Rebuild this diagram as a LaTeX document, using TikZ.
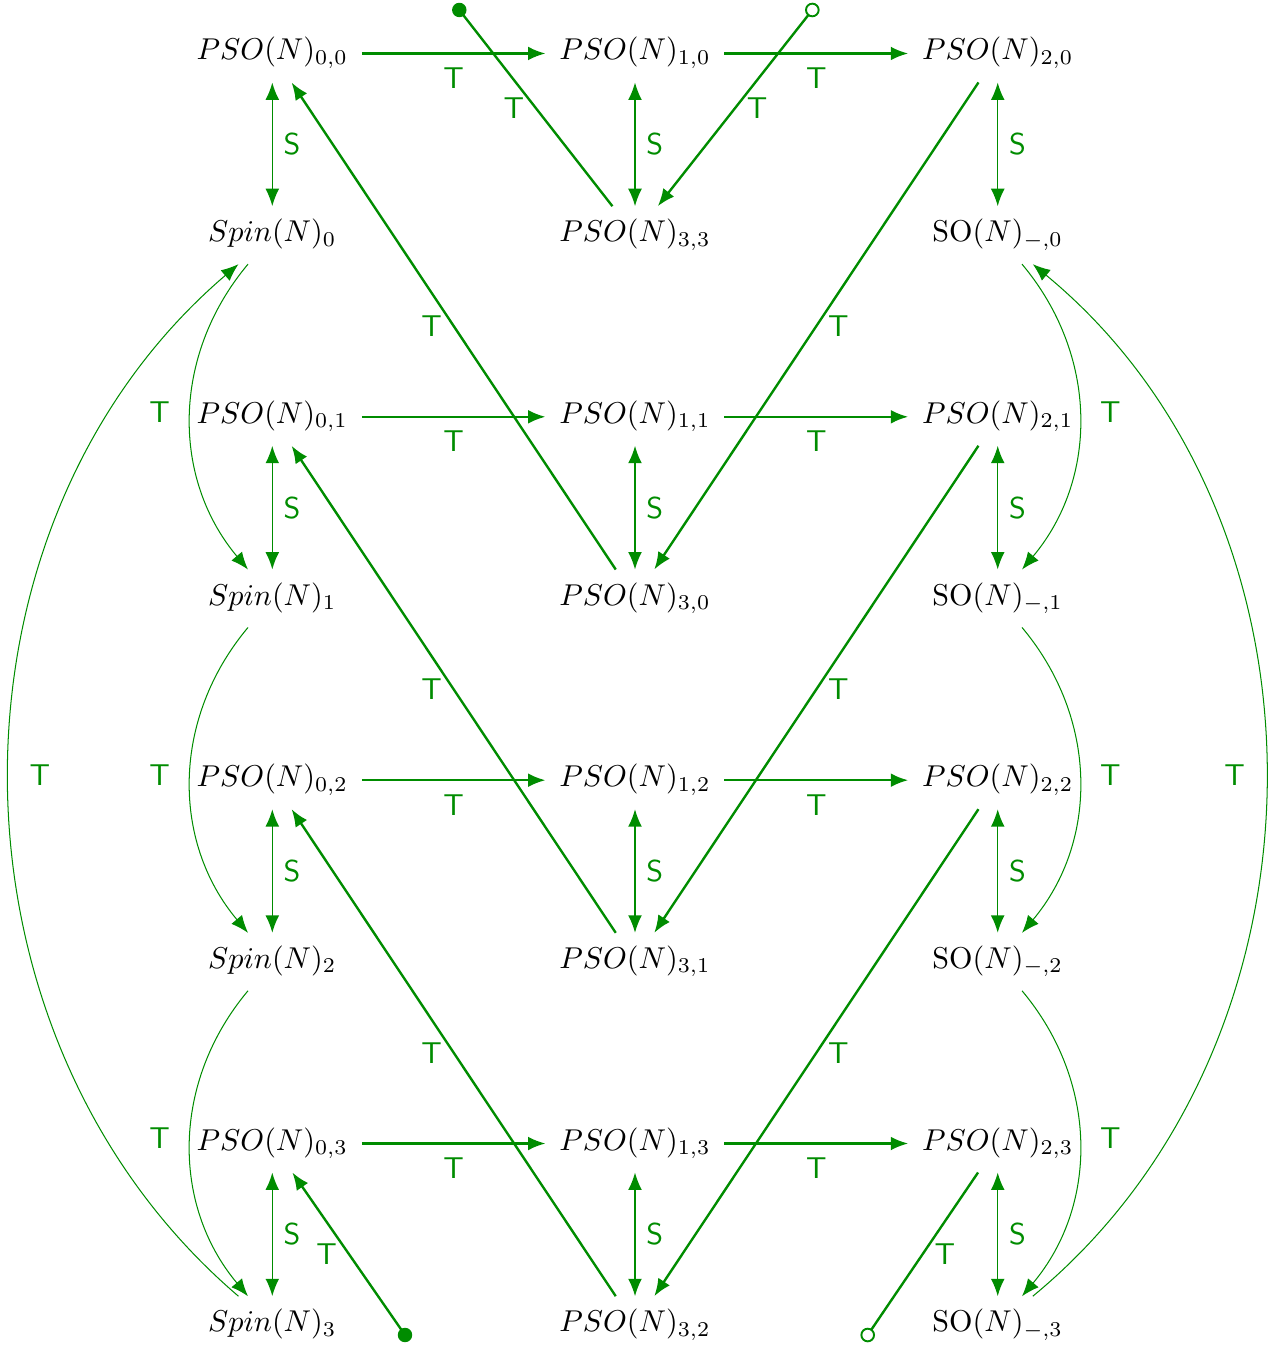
\documentclass[tikz,border=0pt]{standalone}
\usetikzlibrary{arrows.meta}
\definecolor{gr}{RGB}{0,140,0}
\begin{document}
\begin{tikzpicture}[x=0.332pt,y=-0.332pt,
  cell/.style={inner xsep=4.42pt, inner ysep=3.16pt, text height=8.42pt, text depth=4.1pt},
  tarr/.style={draw=gr, line width=0.79pt, -{Latex[length=5.8pt,width=4.6pt]}},
  tline/.style={draw=gr, line width=0.79pt},
  sarr/.style={draw=gr, line width=0.5pt, {Latex[length=5.8pt,width=4.6pt]}-{Latex[length=5.8pt,width=4.6pt]}},
  carr/.style={draw=gr, line width=0.34pt, -{Latex[length=5.8pt,width=4.6pt]}},
  lab/.style={font=\sffamily, text=gr, inner sep=3.5pt},
  hlab/.style={lab, below, inner sep=4.4pt},
  slab/.style={lab, right},
  dlabL/.style={lab, left},
  dlabR/.style={lab, right},
  clabL/.style={lab, left, xshift=-3.2pt, yshift=1.7pt},
  clabR/.style={lab, right, xshift=3.2pt, yshift=1.7pt},
]
\useasboundingbox (0,0) rectangle (1276,1348);
% row 0
\node[cell] (p00) at (272.3,53.5) {$PSO(N)_{0,0}$};
\node[cell] (p10) at (635,53.5) {$PSO(N)_{1,0}$};
\node[cell] (p20) at (997.7,53.5) {$PSO(N)_{2,0}$};
% row 1
\node[cell] (s0) at (272.3,235.2) {$Spin(N)_0$};
\node[cell] (p33) at (635,235.2) {$PSO(N)_{3,3}$};
\node[cell] (o0) at (997.7,235.2) {$\mathrm{SO}(N)_{-,0}$};
% row 2
\node[cell] (p01) at (272.3,416.8) {$PSO(N)_{0,1}$};
\node[cell] (p11) at (635,416.8) {$PSO(N)_{1,1}$};
\node[cell] (p21) at (997.7,416.8) {$PSO(N)_{2,1}$};
% row 3
\node[cell] (s1) at (272.3,598.5) {$Spin(N)_1$};
\node[cell] (p30) at (635,598.5) {$PSO(N)_{3,0}$};
\node[cell] (o1) at (997.7,598.5) {$\mathrm{SO}(N)_{-,1}$};
% row 4
\node[cell] (p02) at (272.3,780.2) {$PSO(N)_{0,2}$};
\node[cell] (p12) at (635,780.2) {$PSO(N)_{1,2}$};
\node[cell] (p22) at (997.7,780.2) {$PSO(N)_{2,2}$};
% row 5
\node[cell] (s2) at (272.3,961.8) {$Spin(N)_2$};
\node[cell] (p31) at (635,961.8) {$PSO(N)_{3,1}$};
\node[cell] (o2) at (997.7,961.8) {$\mathrm{SO}(N)_{-,2}$};
% row 6
\node[cell] (p03) at (272.3,1143.5) {$PSO(N)_{0,3}$};
\node[cell] (p13) at (635,1143.5) {$PSO(N)_{1,3}$};
\node[cell] (p23) at (997.7,1143.5) {$PSO(N)_{2,3}$};
% row 7
\node[cell] (s3) at (272.3,1325.2) {$Spin(N)_3$};
\node[cell] (p32) at (635,1325.2) {$PSO(N)_{3,2}$};
\node[cell] (o3) at (997.7,1325.2) {$\mathrm{SO}(N)_{-,3}$};
% loose ends
\coordinate (dt) at (459.3,10);
\coordinate (db) at (405,1335);
\coordinate (ot) at (812.3,10);
\coordinate (ob) at (867.7,1335);

% horizontal T arrows
\foreach \j in {0,1,2,3}{
  \draw[tarr] (p0\j) -- node[hlab] {T} (p1\j);
  \draw[tarr] (p1\j) -- node[hlab] {T} (p2\j);
}
% vertical S arrows
\draw[sarr] (p00) -- node[slab] {S} (s0);
\draw[sarr] (p01) -- node[slab] {S} (s1);
\draw[sarr] (p02) -- node[slab] {S} (s2);
\draw[sarr] (p03) -- node[slab] {S} (s3);
\draw[sarr] (p10) -- node[slab] {S} (p33);
\draw[sarr] (p11) -- node[slab] {S} (p30);
\draw[sarr] (p12) -- node[slab] {S} (p31);
\draw[sarr] (p13) -- node[slab] {S} (p32);
\draw[sarr] (p20) -- node[slab] {S} (o0);
\draw[sarr] (p21) -- node[slab] {S} (o1);
\draw[sarr] (p22) -- node[slab] {S} (o2);
\draw[sarr] (p23) -- node[slab] {S} (o3);
% diagonal T arrows
\draw[tarr] (p30) -- node[dlabL] {T} (p00);
\draw[tarr] (p31) -- node[dlabL] {T} (p01);
\draw[tarr] (p32) -- node[dlabL] {T} (p02);
\draw[tarr] (p20) -- node[dlabR] {T} (p30);
\draw[tarr] (p21) -- node[dlabR] {T} (p31);
\draw[tarr] (p22) -- node[dlabR] {T} (p32);
% wrapped diagonals
\draw[tline] (p33) -- node[dlabL] {T} (dt);
\fill[gr] (dt) circle (2.4pt);
\draw[tarr] (db) -- node[dlabL] {T} (p03);
\fill[gr] (db) circle (2.4pt);
\draw[tline] (p23) -- node[dlabR] {T} (ob);
\draw[gr, line width=0.63pt, fill=white] (ob) circle (2.1pt);
\draw[tarr] (ot) -- node[dlabR] {T} (p33);
\draw[gr, line width=0.63pt, fill=white] (ot) circle (2.1pt);
% curved T arrows
\draw[carr] (s0) to[bend right=40] node[clabL] {T} (s1);
\draw[carr] (s1) to[bend right=40] node[clabL] {T} (s2);
\draw[carr] (s2) to[bend right=40] node[clabL] {T} (s3);
\draw[carr] (s3) to[bend left=49.5] node[clabR] {T} (s0);
\draw[carr] (o0) to[bend left=40] node[clabR] {T} (o1);
\draw[carr] (o1) to[bend left=40] node[clabR] {T} (o2);
\draw[carr] (o2) to[bend left=40] node[clabR] {T} (o3);
\draw[carr] (o3) to[bend right=50.5] node[clabL] {T} (o0);
\end{tikzpicture}
\end{document}
